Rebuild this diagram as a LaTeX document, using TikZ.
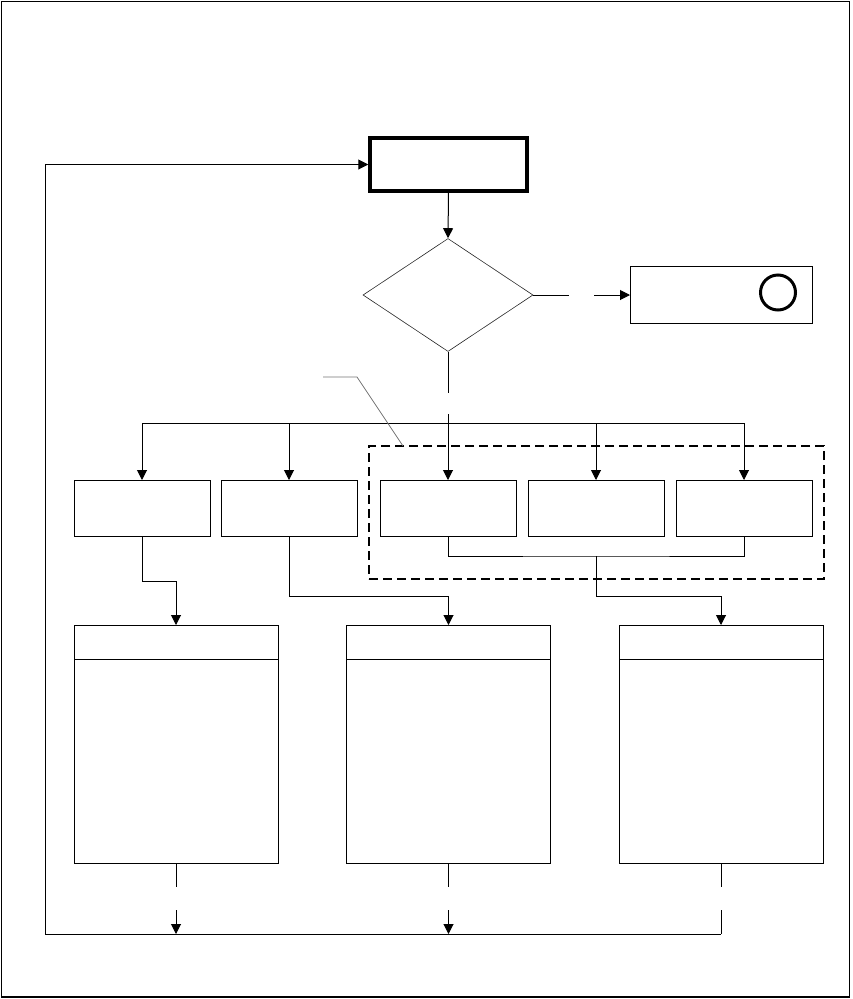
\documentclass[tikz,border=0pt]{standalone}
\usepackage{tikz}
\usetikzlibrary{arrows.meta, positioning, shapes.geometric}

\begin{document}
\begin{tikzpicture}[
  x=1pt, y=-1pt,
  box/.style={rectangle, draw=black, line width=1pt, fill=white, minimum width=136pt,
              minimum height=56pt, inner sep=0pt, outer sep=0pt},
  startbox/.style={rectangle, draw=black, line width=3.5pt, minimum width=157pt,
                   minimum height=53pt, inner sep=0pt},
  dec/.style={diamond, draw=black!85, line width=0.6pt, minimum width=170pt,
              minimum height=113pt, inner sep=0pt},
  hdbox/.style={box, minimum width=204pt, minimum height=34pt},
  bdbox/.style={box, minimum width=204pt, minimum height=204pt},
  ring/.style={circle, draw=black, line width=3pt, minimum size=35pt, inner sep=0pt},
  grpbox/.style={rectangle, draw=black, line width=1.5pt, dash pattern=on 9pt off 5pt,
                 minimum width=455pt, minimum height=133pt, inner sep=0pt},
  e/.style={-{Triangle[length=10pt, width=10pt]}, draw=black, line width=1pt},
  ln/.style={draw=black, line width=1pt},
  lead/.style={draw=black!55, line width=0.7pt},
  pageframe/.style={draw=black, line width=1.2pt}
]
\useasboundingbox (0,0) rectangle (852,999);
\draw[pageframe] (1.5,1.5) rectangle (849.5,997);

% ================================================= top: start, decision, exit
\node[startbox] (start) at (448.5,164.5) {};
\node[dec] (check) at (448,295) {};
\node[box, minimum width=182pt, minimum height=57pt] (exitbox) at (721,295) {};
\node[ring] (endmark) at (778,292.5) {};

\draw[e] (start.south) -- (check.north);
\draw[ln] (check.east) -- ++(36,0);
\draw[e] (exitbox.west) ++(-36,0) -- (exitbox.west);

% ===================================================== middle row of five
\node[grpbox] (grp) at (596.5,512.5) {};
\node[box] (r1) at (142,508) {};
\node[box] (r2) at (289,508) {};
\node[box] (r3) at (448,508) {};
\node[box] (r4) at (596,508) {};
\node[box] (r5) at (744,508) {};

\draw[ln] (check.south) -- ++(0,41);
\draw[e] (r3.north) ++(0,-66) -- (r3.north);
\coordinate (busL) at (142,423);
\coordinate (busR) at (744,423);
\draw[ln] (busL) -- (busR);
\foreach \n in {1,2,4,5}
  \draw[e] (r\n.north |- busL) -- (r\n.north);

% callout to the dashed group
\coordinate (callout) at (323,377);
\draw[lead] (callout) -- ++(34,0) -- ++(46,69);

% ============================================ bottom: three tall boxes
\node[hdbox] (hdA) at (176,642) {};
\node[bdbox, below=0pt of hdA] (bdA) {};
\node[hdbox] (hdB) at (448.5,642) {};
\node[bdbox, below=0pt of hdB] (bdB) {};
\node[hdbox] (hdC) at (721,642) {};
\node[bdbox, below=0pt of hdC] (bdC) {};

\draw[e] (r1.south) -- ++(0,45) -| (hdA.north);
\draw[e] (r2.south) -- ++(0,60) -| (hdB.north);
\coordinate (jn) at (596,556);
\draw[ln] (r3.south) |- (jn) -| (r5.south);
\draw[e] (jn) -- ++(0,40) -| (hdC.north);

% ===================================================== return loop
\coordinate (lpA) at (bdA.south |- 0,934);
\coordinate (lpB) at (bdB.south |- 0,934);
\coordinate (lpC) at (bdC.south |- 0,934);
\coordinate (lpL) at (45,934);

\draw[ln] (bdA.south) -- ++(0,24);
\draw[ln] (bdB.south) -- ++(0,24);
\draw[ln] (bdC.south) -- ++(0,24);
\draw[e] (lpA) ++(0,-24) -- (lpA);
\draw[e] (lpB) ++(0,-24) -- (lpB);
\draw[ln] (lpC) ++(0,-24) -- (lpC);
\draw[e] (lpC) -- (lpL) |- (start.west);

\end{tikzpicture}
\end{document}
